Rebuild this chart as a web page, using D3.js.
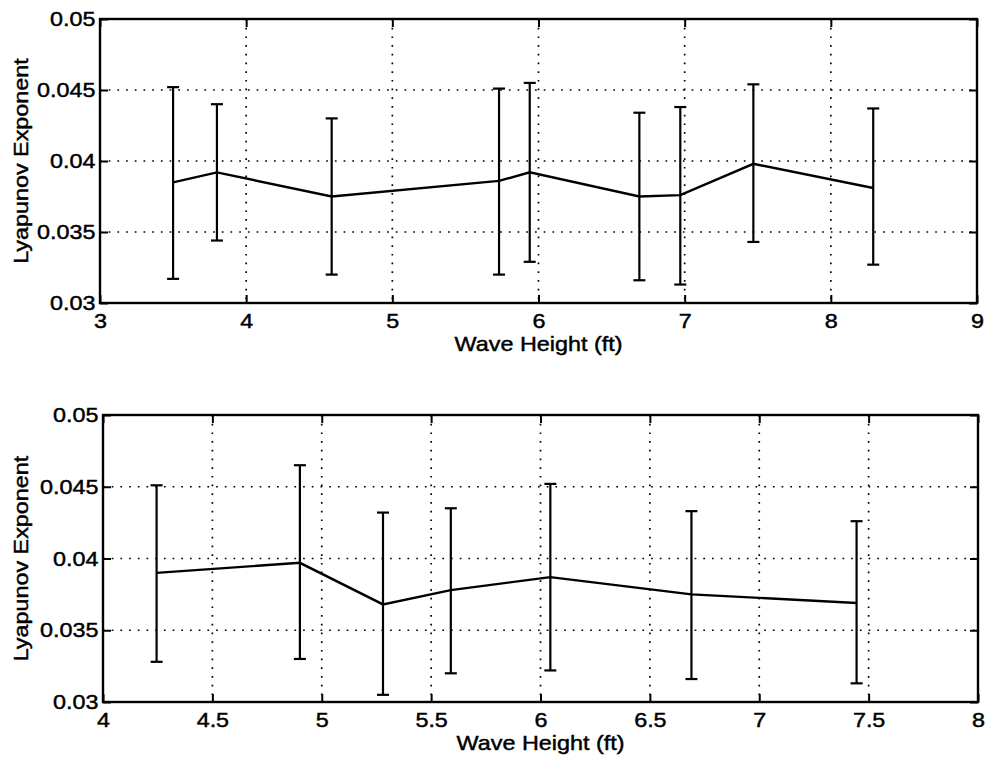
<!DOCTYPE html>
<html>
<head>
<meta charset="utf-8">
<script src="https://cdn.jsdelivr.net/npm/d3@7"></script>
<style>
  html, body { margin: 0; padding: 0; background: #fff; }
  svg { display: block; font-family: "Liberation Sans", Arial, Helvetica, sans-serif; }
</style>
</head>
<body>
<svg id="chart" width="987" height="763"></svg>
<script>
// top panel data
var waveTop = [3.50, 3.80, 4.585, 5.73, 5.94, 6.69, 6.97, 7.47, 8.29];
var lyapTop = [0.0385, 0.0392, 0.0375, 0.0386, 0.0392, 0.0375, 0.0376, 0.0398, 0.0381];
var lowTop  = [0.0317, 0.0344, 0.0320, 0.0320, 0.0329, 0.0316, 0.0313, 0.0343, 0.0327];
var highTop = [0.0452, 0.0440, 0.0430, 0.0451, 0.0455, 0.0434, 0.0438, 0.0454, 0.0437];

// bottom panel data
var waveBot = [4.245, 4.90, 5.28, 5.59, 6.045, 6.69, 7.445];
var lyapBot = [0.0390, 0.0397, 0.0368, 0.0378, 0.0387, 0.0375, 0.0369];
var lowBot  = [0.0328, 0.0330, 0.0305, 0.0320, 0.0322, 0.0316, 0.0313];
var highBot = [0.0451, 0.0465, 0.0432, 0.0435, 0.0452, 0.0433, 0.0426];

// tick labels
var yTicks = [0.03, 0.035, 0.04, 0.045, 0.05];
var yTickLabels = ["0.03", "0.035", "0.04", "0.045", "0.05"];
var xTicksTop = [3, 4, 5, 6, 7, 8, 9];
var xTicksBot = [4, 4.5, 5, 5.5, 6, 6.5, 7, 7.5, 8];

var xLabel = "Wave Height (ft)";
var yLabel = "Lyapunov Exponent";

var svg = d3.select("#chart");
var fontSize = 20.5;
var sx = 1.14; // scanned font is wider than Arial
var tickLen = 8;
var capW = 6;

// scanned print looks heavier, thicken the glyphs a bit
function inkText(sel) {
    sel.attr("fill", "#000")
        .attr("stroke", "#000")
        .attr("stroke-width", 0.45)
        .style("font-size", fontSize + "px")
        .style("font-family", "'Liberation Sans', Arial, sans-serif");
}

function drawPanel(box, xDomain, xTicks, wave, lyap, low, high) {
    var x = d3.scaleLinear().domain(xDomain).range([box.left, box.right]);
    var y = d3.scaleLinear().domain([0.03, 0.05]).range([box.bottom, box.top]);
    var g = svg.append("g");

    // dotted grid
    g.append("g").selectAll("line.gx")
        .data(xTicks.slice(1, -1))
        .enter().append("line")
        .attr("x1", function (d) { return x(d); })
        .attr("x2", function (d) { return x(d); })
        .attr("y1", box.top).attr("y2", box.bottom)
        .attr("stroke", "#000").attr("stroke-width", 1.7)
        .attr("stroke-dasharray", "1.7,7");
    g.append("g").selectAll("line.gy")
        .data(yTicks.slice(1, -1))
        .enter().append("line")
        .attr("y1", function (d) { return y(d); })
        .attr("y2", function (d) { return y(d); })
        .attr("x1", box.left).attr("x2", box.right)
        .attr("stroke", "#000").attr("stroke-width", 1.7)
        .attr("stroke-dasharray", "1.7,7");

    // axes (ticks point inward, like matlab)
    var fmtY = function (d) { return yTickLabels[yTicks.indexOf(d)]; };
    var ax = [
        { a: d3.axisBottom(x).tickValues(xTicks).tickFormat(d3.format("")).tickSizeInner(-tickLen).tickSizeOuter(0).tickPadding(10), t: "translate(0," + box.bottom + ")" },
        { a: d3.axisTop(x).tickValues(xTicks).tickFormat("").tickSizeInner(-tickLen).tickSizeOuter(0), t: "translate(0," + box.top + ")" },
        { a: d3.axisLeft(y).tickValues(yTicks).tickFormat(fmtY).tickSizeInner(-tickLen).tickSizeOuter(0).tickPadding(4), t: "translate(" + box.left + ",0)" },
        { a: d3.axisRight(y).tickValues(yTicks).tickFormat("").tickSizeInner(-tickLen).tickSizeOuter(0), t: "translate(" + box.right + ",0)" }
    ];
    ax.forEach(function (o) {
        var ag = g.append("g").attr("transform", o.t).call(o.a);
        ag.select(".domain").remove();
        ag.selectAll(".tick line").attr("stroke", "#000").attr("stroke-width", 2);
        ag.selectAll(".tick text")
            .call(inkText)
            .attr("transform", "scale(" + sx + ",1)");
    });

    // box
    g.append("rect")
        .attr("x", box.left).attr("y", box.top)
        .attr("width", box.right - box.left).attr("height", box.bottom - box.top)
        .attr("fill", "none").attr("stroke", "#000").attr("stroke-width", 2.4);

    // error bars
    var idx = d3.range(wave.length);
    var eb = g.append("g").attr("stroke", "#000").attr("stroke-width", 2.2);
    eb.selectAll("line.v").data(idx).enter().append("line")
        .attr("x1", function (i) { return x(wave[i]); })
        .attr("x2", function (i) { return x(wave[i]); })
        .attr("y1", function (i) { return y(low[i]); })
        .attr("y2", function (i) { return y(high[i]); });
    [low, high].forEach(function (arr) {
        eb.append("g").selectAll("line").data(idx).enter().append("line")
            .attr("x1", function (i) { return x(wave[i]) - capW; })
            .attr("x2", function (i) { return x(wave[i]) + capW; })
            .attr("y1", function (i) { return y(arr[i]); })
            .attr("y2", function (i) { return y(arr[i]); });
    });

    // mean line
    var line = d3.line()
        .x(function (i) { return x(wave[i]); })
        .y(function (i) { return y(lyap[i]); });
    g.append("path").datum(idx)
        .attr("d", line)
        .attr("fill", "none").attr("stroke", "#000").attr("stroke-width", 2.4);

    // labels
    g.append("text")
        .attr("transform", "translate(" + ((box.left + box.right) / 2) + "," + (box.bottom + 48) + ") scale(" + sx + ",1)")
        .attr("text-anchor", "middle")
        .call(inkText)
        .text(xLabel);
    g.append("text")
        .attr("transform", "translate(28," + ((box.top + box.bottom) / 2) + ") rotate(-90) scale(" + sx + ",1)")
        .attr("text-anchor", "middle")
        .call(inkText)
        .text(yLabel);
}

drawPanel({ left: 100, right: 977, top: 19, bottom: 303 }, [3, 9], xTicksTop, waveTop, lyapTop, lowTop, highTop);
drawPanel({ left: 103, right: 978, top: 415, bottom: 702 }, [4, 8], xTicksBot, waveBot, lyapBot, lowBot, highBot);
</script>
</body>
</html>
